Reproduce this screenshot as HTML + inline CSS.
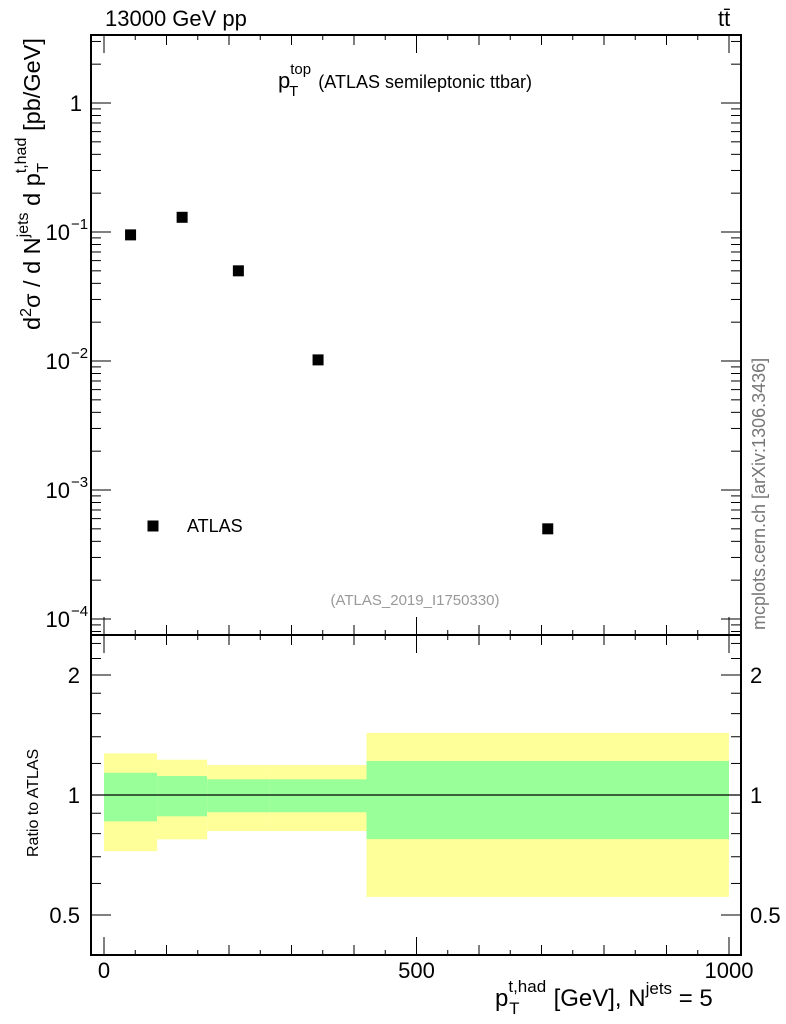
<!DOCTYPE html>
<html><head><meta charset="utf-8"><style>
body{margin:0;background:#fff;}
svg{display:block;font-family:"Liberation Sans",sans-serif;}
</style></head><body>
<svg id="c" width="786" height="1024"></svg>
<script>
const xPoints=[42.5,125,215,342.5,710];
const yValues=[0.095,0.13,0.05,0.0102,0.0005];
const binEdges=[0,85,165,265,420,1000];
const yellowHi=[1.272,1.226,1.189,1.189,1.431];
const yellowLo=[0.723,0.774,0.812,0.812,0.555];
const greenHi=[1.137,1.116,1.095,1.095,1.217];
const greenLo=[0.859,0.884,0.905,0.905,0.775];
const xTicks=[0,500,1000];
const yTicks=[1,0.1,0.01,0.001,0.0001];
const yTickLabels=[["1",""],["10","−1"],["10","−2"],["10","−3"],["10","−4"]];
const rTicks=[0.5,1,2];

const L=91,R=741,T=35,M=635,B=955;
const sx=v=>104+v*0.625;
const sy=v=>103-129*Math.log10(v);
const sr=v=>795-120*Math.log2(v);
const svg=document.getElementById('c');
const NS='http://www.w3.org/2000/svg';
function mk(t,a,txt){const e=document.createElementNS(NS,t);for(const k in a)e.setAttribute(k,a[k]);if(txt!==undefined)e.textContent=txt;svg.appendChild(e);return e;}
function line(x1,y1,x2,y2,w){return mk('line',{x1,y1,x2,y2,stroke:'#000','stroke-width':w||1});}

for(let i=0;i<binEdges.length-1;i++){
 const x0=sx(binEdges[i]),x1=sx(binEdges[i+1]);
 let e=mk('rect',{x:x0,y:sr(yellowHi[i]),width:x1-x0,height:sr(yellowLo[i])-sr(yellowHi[i]),fill:'#ffff99'});
 
 
 e=mk('rect',{x:x0,y:sr(greenHi[i]),width:x1-x0,height:sr(greenLo[i])-sr(greenHi[i]),fill:'#99ff99'});
 
 
}
line(L,sr(1),R,sr(1),1.2);

mk('rect',{x:L,y:T,width:R-L,height:M-T,fill:'none',stroke:'#000','stroke-width':2});
mk('rect',{x:L,y:M,width:R-L,height:B-M,fill:'none',stroke:'#000','stroke-width':2});

for(let v=0;v<=1000;v+=50){
 const x=sx(v);const len=v%500===0?18:(v%100===0?10:5);
 for(const [y0,d] of [[M,-1],[B,-1],[T,1],[M,1]]){line(x,y0,x,y0+d*len,1);}
}
xTicks.forEach(v=>{const t=mk('text',{x:sx(v),y:978,'font-size':22,'text-anchor':'middle'},String(v));
 });

for(let d=-5;d<=1;d++){for(let k=1;k<10;k++){const v=k*Math.pow(10,d);const y=sy(v);if(y<T||y>M)continue;
 const len=k===1?20:10;line(L,y,L+len,y);line(R,y,R-len,y);}}
yTicks.forEach((v,i)=>{const y=sy(v);const lb=yTickLabels[i];
 const t=mk('text',{x:lb[1]?70:82,y:y+8,'font-size':22,'text-anchor':'end'},lb[0]);
 if(lb[1]){mk('text',{x:71,y:y-3,'font-size':15},lb[1]);}
 });

[0.5,0.6,0.7,0.8,0.9,1,1.2,1.4,1.6,1.8,2,2.2,2.4].forEach(v=>{const y=sr(v);const maj=rTicks.includes(v);const len=maj?20:10;line(L,y,L+len,y);line(R,y,R-len,y);});
rTicks.forEach(v=>{const y=sr(v)+8;const s=String(v);
 mk('text',{x:80,y,'font-size':22,'text-anchor':'end'},s);
 mk('text',{x:750,y,'font-size':22},s);});

xPoints.forEach((v,i)=>{const e=mk('rect',{x:sx(v)-5.5,y:sy(yValues[i])-5.5,width:11,height:11,fill:'#000'});
 });
</script>
<svg x="0" y="0" width="786" height="1024" style="position:absolute;left:0;top:0">
<text x="105" y="26" font-size="22" font-family="Liberation Sans">13000 GeV pp</text>
<text x="718" y="26" font-size="22" font-family="Liberation Sans">tt̄</text>
<text x="278" y="88" font-size="22" font-family="Liberation Sans">p<tspan font-size="15" dy="-14">top</tspan><tspan font-size="15" dx="-22" dy="22">T</tspan><tspan font-size="18" dx="20" dy="-8">(ATLAS semileptonic ttbar)</tspan></text>
<rect x="147.5" y="520.5" width="11" height="11" fill="#000"/>
<text x="187" y="532" font-size="18" font-family="Liberation Sans">ATLAS</text>
<text x="415" y="605" font-size="15" fill="#999" text-anchor="middle" font-family="Liberation Sans">(ATLAS_2019_I1750330)</text>
<text transform="translate(765,630) rotate(-90)" font-size="18" fill="#777" font-family="Liberation Sans">mcplots.cern.ch [arXiv:1306.3436]</text>
<text transform="translate(40,330) rotate(-90)" font-size="23.5" font-family="Liberation Sans">d<tspan font-size="16" dy="-9">2</tspan><tspan dy="9">σ / d N</tspan><tspan font-size="16" dy="-12">jets</tspan><tspan dy="12"> d p</tspan><tspan font-size="16" dy="-14">t,had</tspan><tspan font-size="16" dx="-35" dy="22">T</tspan><tspan dx="32" dy="-8">[pb/GeV]</tspan></text>
<text transform="translate(38,857) rotate(-90)" font-size="16" font-family="Liberation Sans">Ratio to ATLAS</text>
<text x="495" y="1006" font-size="24" font-family="Liberation Sans">p<tspan font-size="17" dy="-14">t,had</tspan><tspan font-size="17" dx="-37" dy="22">T</tspan><tspan dx="34" dy="-8">[GeV], N</tspan><tspan font-size="17" dy="-12">jets</tspan><tspan dy="12"> = 5</tspan></text>
</svg>
</body></html>
